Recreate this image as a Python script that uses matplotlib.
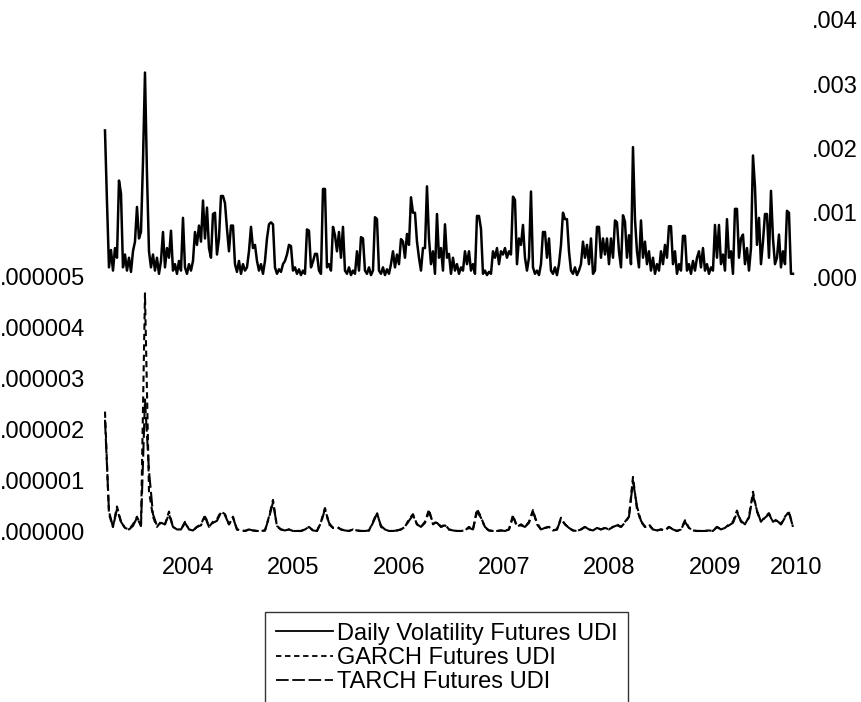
import numpy as np
import matplotlib
matplotlib.use("Agg")
import matplotlib.pyplot as plt

plt.rcParams['font.family'] = ['Liberation Sans', 'DejaVu Sans']

# daily volatility (x 0.001), one value every ~5 trading days
vol = [
    2.28, 1.17, 0.15, 0.42, 0.10, 0.45, 0.30, 1.50, 1.30, 0.15,
    0.35, 0.10, 0.30, 0.08, 0.40, 0.55, 1.09, 0.60, 0.70, 1.79,
    3.18, 1.60, 0.40, 0.15, 0.35, 0.10, 0.30, 0.05, 0.25, 0.70,
    0.15, 0.45, 0.30, 0.72, 0.10, 0.20, 0.05, 0.25, 0.10, 0.92,
    0.15, 0.05, 0.20, 0.10, 0.25, 0.70, 0.50, 0.80, 0.55, 1.19,
    0.60, 1.08, 0.45, 0.30, 0.98, 1.00, 0.35, 0.60, 1.26, 1.26,
    1.15, 0.75, 0.40, 0.80, 0.80, 0.20, 0.08, 0.25, 0.05, 0.20,
    0.10, 0.15, 0.40, 0.78, 0.45, 0.50, 0.25, 0.10, 0.20, 0.05,
    0.25, 0.60, 0.82, 0.85, 0.82, 0.15, 0.05, 0.12, 0.08, 0.20,
    0.25, 0.35, 0.50, 0.48, 0.10, 0.15, 0.05, 0.12, 0.03, 0.10,
    0.05, 0.74, 0.72, 0.15, 0.24, 0.36, 0.36, 0.10, 0.05, 1.37,
    1.37, 0.15, 0.20, 0.10, 0.78, 0.65, 0.40, 0.70, 0.30, 0.78,
    0.10, 0.05, 0.15, 0.03, 0.10, 0.05, 0.40, 0.10, 0.62, 0.60,
    0.10, 0.05, 0.15, 0.03, 0.10, 0.93, 0.90, 0.10, 0.05, 0.15,
    0.03, 0.12, 0.05, 0.20, 0.40, 0.15, 0.35, 0.20, 0.59, 0.55,
    0.30, 0.67, 0.50, 1.24, 1.00, 1.00, 0.55, 0.30, 0.10, 0.45,
    0.45, 1.41, 0.60, 0.20, 0.40, 0.05, 0.98, 0.30, 0.45, 0.10,
    0.82, 0.30, 0.36, 0.05, 0.30, 0.10, 0.20, 0.05, 0.15, 0.10,
    0.40, 0.20, 0.40, 0.10, 0.20, 0.05, 0.95, 0.95, 0.75, 0.05,
    0.10, 0.03, 0.08, 0.05, 0.40, 0.30, 0.45, 0.20, 0.40, 0.35,
    0.45, 0.30, 0.40, 0.35, 1.25, 1.20, 0.20, 0.60, 0.50, 0.81,
    0.30, 0.10, 0.30, 1.33, 0.15, 0.05, 0.10, 0.03, 0.20, 0.70,
    0.70, 0.30, 0.60, 0.10, 0.05, 0.15, 0.03, 0.20, 0.50, 1.00,
    0.90, 0.90, 0.40, 0.10, 0.05, 0.15, 0.03, 0.10, 0.20, 0.55,
    0.30, 0.50, 0.20, 0.60, 0.05, 0.10, 0.78, 0.78, 0.30, 0.60,
    0.35, 0.60, 0.20, 0.60, 0.30, 0.88, 0.85, 0.40, 0.15, 0.96,
    0.86, 0.30, 0.65, 0.20, 2.02, 0.90, 0.40, 0.15, 0.88, 0.30,
    0.55, 0.20, 0.40, 0.10, 0.30, 0.05, 0.20, 0.10, 0.40, 0.20,
    0.50, 0.30, 0.79, 0.79, 0.20, 0.40, 0.05, 0.20, 0.10, 0.64,
    0.64, 0.10, 0.20, 0.05, 0.25, 0.10, 0.30, 0.40, 0.15, 0.45,
    0.10, 0.20, 0.05, 0.15, 0.10, 0.81, 0.30, 0.81, 0.20, 0.35,
    0.10, 0.90, 0.30, 0.40, 0.05, 1.06, 1.06, 0.30, 0.60, 0.66,
    0.20, 0.45, 0.10, 0.45, 1.89, 1.40, 0.50, 0.92, 0.20, 0.55,
    0.98, 0.98, 0.30, 1.34, 0.60, 0.20, 0.30, 0.66, 0.15, 0.40,
    0.20, 1.03, 1.00, 0.05, 0.05,
]

# conditional variance (x 1e-6), one value every ~10 trading days
garch = [
    2.36, 0.35, 0.10, 0.50, 0.20, 0.08, 0.05, 0.15, 0.30, 0.12,
    4.68, 0.80, 0.30, 0.10, 0.20, 0.15, 0.40, 0.10, 0.05, 0.05,
    0.20, 0.05, 0.03, 0.10, 0.15, 0.33, 0.10, 0.20, 0.25, 0.40,
    0.35, 0.15, 0.30, 0.05, 0.03, 0.02, 0.05, 0.03, 0.02, 0.02,
    0.03, 0.30, 0.63, 0.10, 0.05, 0.03, 0.05, 0.02, 0.02, 0.02,
    0.05, 0.10, 0.03, 0.02, 0.20, 0.47, 0.15, 0.08, 0.10, 0.05,
    0.03, 0.02, 0.05, 0.03, 0.02, 0.02, 0.03, 0.20, 0.38, 0.10,
    0.05, 0.02, 0.02, 0.03, 0.05, 0.10, 0.25, 0.35, 0.15, 0.10,
    0.20, 0.44, 0.15, 0.20, 0.10, 0.15, 0.05, 0.03, 0.02, 0.02,
    0.03, 0.10, 0.05, 0.45, 0.30, 0.08, 0.03, 0.02, 0.02, 0.03,
    0.02, 0.05, 0.33, 0.10, 0.15, 0.10, 0.20, 0.43, 0.15, 0.05,
    0.08, 0.10, 0.03, 0.05, 0.28, 0.15, 0.08, 0.03, 0.02, 0.05,
    0.10, 0.05, 0.03, 0.08, 0.05, 0.08, 0.05, 0.10, 0.15, 0.10,
    0.20, 0.30, 1.08, 0.45, 0.20, 0.10, 0.15, 0.05, 0.03, 0.05,
    0.03, 0.10, 0.05, 0.02, 0.05, 0.23, 0.08, 0.03, 0.02, 0.02,
    0.02, 0.03, 0.02, 0.10, 0.05, 0.08, 0.15, 0.20, 0.42, 0.20,
    0.15, 0.30, 0.79, 0.40, 0.20, 0.30, 0.37, 0.20, 0.25, 0.15,
    0.30, 0.40, 0.10,
]

tarch = [
    2.20, 0.40, 0.10, 0.45, 0.20, 0.08, 0.05, 0.12, 0.28, 0.12,
    2.60, 1.20, 0.35, 0.12, 0.18, 0.15, 0.35, 0.10, 0.05, 0.05,
    0.18, 0.05, 0.03, 0.10, 0.13, 0.30, 0.10, 0.18, 0.22, 0.38,
    0.33, 0.15, 0.28, 0.05, 0.03, 0.02, 0.05, 0.03, 0.02, 0.02,
    0.03, 0.28, 0.58, 0.12, 0.05, 0.03, 0.05, 0.02, 0.02, 0.02,
    0.05, 0.10, 0.03, 0.02, 0.18, 0.45, 0.18, 0.08, 0.10, 0.05,
    0.03, 0.02, 0.05, 0.03, 0.02, 0.02, 0.03, 0.18, 0.36, 0.12,
    0.05, 0.02, 0.02, 0.03, 0.05, 0.10, 0.22, 0.33, 0.15, 0.10,
    0.18, 0.40, 0.18, 0.18, 0.10, 0.13, 0.05, 0.03, 0.02, 0.02,
    0.03, 0.08, 0.05, 0.40, 0.28, 0.10, 0.03, 0.02, 0.02, 0.03,
    0.02, 0.05, 0.30, 0.12, 0.13, 0.10, 0.18, 0.40, 0.18, 0.05,
    0.08, 0.10, 0.03, 0.05, 0.25, 0.15, 0.08, 0.03, 0.02, 0.05,
    0.10, 0.05, 0.03, 0.08, 0.05, 0.08, 0.05, 0.10, 0.13, 0.10,
    0.18, 0.30, 1.00, 0.50, 0.22, 0.10, 0.13, 0.05, 0.03, 0.05,
    0.03, 0.10, 0.05, 0.02, 0.05, 0.20, 0.08, 0.03, 0.02, 0.02,
    0.02, 0.03, 0.02, 0.10, 0.05, 0.08, 0.13, 0.18, 0.38, 0.22,
    0.15, 0.28, 0.72, 0.42, 0.20, 0.28, 0.35, 0.20, 0.22, 0.15,
    0.28, 0.38, 0.10,
]

year_ticks = [2004, 2005, 2006, 2007, 2008, 2009, 2009.77]
year_labels = ['2004', '2005', '2006', '2007', '2008', '2009', '2010']
left_ticks = [0, 1e-6, 2e-6, 3e-6, 4e-6, 5e-6]
left_labels = ['.000000', '.000001', '.000002', '.000003', '.000004', '.000005']
right_ticks = [0, 0.001, 0.002, 0.003, 0.004]
right_labels = ['.000', '.001', '.002', '.003', '.004']

t_start, t_end = 2003.2125, 2009.74
x_vol = np.linspace(t_start, t_end, len(vol))
x_var = np.linspace(t_start, t_end, len(garch))

fig = plt.figure(figsize=(8.61, 7.02), dpi=100)
ax = fig.add_axes([100.5 / 861, 1 - 540 / 702, 698.8 / 861, 525 / 702])
ax2 = ax.twinx()

l2, = ax.plot(x_var, np.array(garch) * 1e-6, color='black', lw=1.5, dashes=(3, 2))
l3, = ax.plot(x_var, np.array(tarch) * 1e-6, color='black', lw=1.5, dashes=(7, 2))
l1, = ax2.plot(x_vol, np.array(vol) * 1e-3, color='black', lw=1.8)

ax.set_xlim(2003.17, 2009.80)
ax.set_ylim(-0.157e-6, 10.137e-6)
ax2.set_ylim(-4.09e-3, 4.075e-3)

ax.set_xticks(year_ticks)
ax.set_xticklabels(year_labels)
ax.set_yticks(left_ticks)
ax.set_yticklabels(left_labels)
ax2.set_yticks(right_ticks)
ax2.set_yticklabels(right_labels)

for a in (ax, ax2):
    for s in a.spines.values():
        s.set_visible(False)
    a.tick_params(length=0, labelsize=17, colors='black')
ax.tick_params(axis='y', pad=11)
ax.tick_params(axis='x', pad=12.3)
ax2.tick_params(axis='y', pad=9.4)

leg = fig.legend([l1, l2, l3],
                 ['Daily Volatility Futures UDI', 'GARCH Futures UDI', 'TARCH Futures UDI'],
                 loc='upper left', bbox_to_anchor=(265 / 861, 1 - 612 / 702),
                 bbox_transform=fig.transFigure, fontsize=17, frameon=True,
                 fancybox=False, edgecolor='black', borderpad=0.45, labelspacing=0.1,
                 handlelength=2.45, handletextpad=0.15, borderaxespad=0)
leg.get_frame().set_linewidth(1.0)
for h in leg.legend_handles:
    h.set_linewidth(1.3)

fig.savefig('out.png', dpi=100)
